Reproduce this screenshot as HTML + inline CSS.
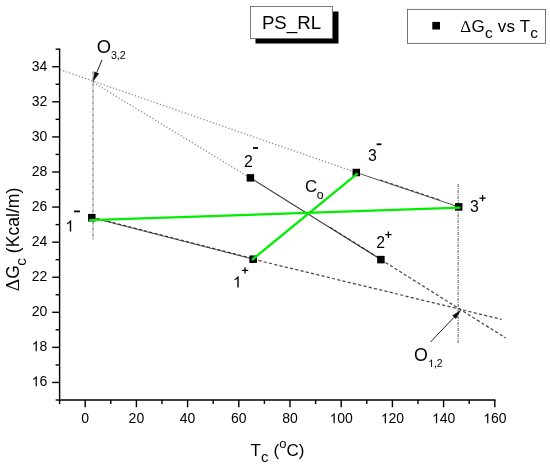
<!DOCTYPE html>
<html><head><meta charset="utf-8"><title>PS_RL</title>
<style>html,body{margin:0;padding:0;background:#fff}body{width:550px;height:467px;position:relative;overflow:hidden;font-family:"Liberation Sans",sans-serif}</style></head>
<body>
<svg width="550" height="467" viewBox="0 0 550 467" style="position:absolute;left:0;top:0;will-change:transform" font-family="Liberation Sans, sans-serif">
<rect width="550" height="467" fill="#fff"/>
<g fill="none" stroke-linecap="butt">
<line x1="93.0" y1="71.5" x2="93.0" y2="240" stroke="#9a9a9a" stroke-width="1.6" stroke-dasharray="3 1 1 1"/>
<line x1="458.2" y1="184" x2="458.2" y2="344" stroke="#9a9a9a" stroke-width="1.6" stroke-dasharray="3 1 1 1"/>
<line x1="60" y1="69.6" x2="356.3" y2="172.5" stroke="#8c8c8c" stroke-width="1.25" stroke-dasharray="1.3 2.0"/>
<line x1="93.1" y1="82.3" x2="250.4" y2="178.0" stroke="#8c8c8c" stroke-width="1.25" stroke-dasharray="1.3 2.0"/>
<line x1="253.2" y1="259.2" x2="501.6" y2="319.3" stroke="#4a4a4a" stroke-width="1.25" stroke-dasharray="3.2 2.2"/>
<line x1="380.9" y1="259.6" x2="505.6" y2="337.9" stroke="#4a4a4a" stroke-width="1.25" stroke-dasharray="3.2 2.2"/>
<line x1="91.8" y1="217.7" x2="253.2" y2="259.2" stroke="#555" stroke-width="1"/>
<line x1="91.8" y1="217.1" x2="253.2" y2="258.6" stroke="#222" stroke-width="1" stroke-dasharray="3.2 2.2"/>
<line x1="250.4" y1="177.85" x2="380.9" y2="259.6" stroke="#333" stroke-width="1.1"/>
<line x1="356.3" y1="172.5" x2="458.7" y2="206.9" stroke="#555" stroke-width="1"/>
<line x1="380" y1="179.9" x2="440" y2="200.0" stroke="#333" stroke-width="1" stroke-dasharray="3.2 2.2"/>
<line x1="330" y1="227.2" x2="380.9" y2="259.1" stroke="#222" stroke-width="1" stroke-dasharray="3.2 2.2"/>
</g>
<rect x="88.05" y="213.95" width="7.5" height="7.5" fill="#000"/>
<rect x="249.45" y="255.45" width="7.5" height="7.5" fill="#000"/>
<rect x="246.65" y="174.10" width="7.5" height="7.5" fill="#000"/>
<rect x="377.15" y="255.85" width="7.5" height="7.5" fill="#000"/>
<rect x="352.55" y="168.75" width="7.5" height="7.5" fill="#000"/>
<rect x="454.95" y="203.15" width="7.5" height="7.5" fill="#000"/>
<line x1="89.2" y1="220.2" x2="460.5" y2="207.7" stroke="#00ee00" stroke-width="2.3"/>
<line x1="251.8" y1="260.0" x2="357.6" y2="173.4" stroke="#00ee00" stroke-width="2.3"/>
<g stroke="#000" stroke-width="1.4" fill="none">
<line x1="59.6" y1="48.5" x2="59.6" y2="400.7"/>
<line x1="58.9" y1="400.0" x2="495.5" y2="400.0"/>
<line x1="55.6" y1="400.00" x2="59.6" y2="400.00"/>
<line x1="52.2" y1="382.46" x2="59.6" y2="382.46"/>
<line x1="55.6" y1="364.92" x2="59.6" y2="364.92"/>
<line x1="52.2" y1="347.38" x2="59.6" y2="347.38"/>
<line x1="55.6" y1="329.84" x2="59.6" y2="329.84"/>
<line x1="52.2" y1="312.30" x2="59.6" y2="312.30"/>
<line x1="55.6" y1="294.76" x2="59.6" y2="294.76"/>
<line x1="52.2" y1="277.22" x2="59.6" y2="277.22"/>
<line x1="55.6" y1="259.68" x2="59.6" y2="259.68"/>
<line x1="52.2" y1="242.14" x2="59.6" y2="242.14"/>
<line x1="55.6" y1="224.60" x2="59.6" y2="224.60"/>
<line x1="52.2" y1="207.06" x2="59.6" y2="207.06"/>
<line x1="55.6" y1="189.52" x2="59.6" y2="189.52"/>
<line x1="52.2" y1="171.98" x2="59.6" y2="171.98"/>
<line x1="55.6" y1="154.44" x2="59.6" y2="154.44"/>
<line x1="52.2" y1="136.90" x2="59.6" y2="136.90"/>
<line x1="55.6" y1="119.36" x2="59.6" y2="119.36"/>
<line x1="52.2" y1="101.82" x2="59.6" y2="101.82"/>
<line x1="55.6" y1="84.28" x2="59.6" y2="84.28"/>
<line x1="52.2" y1="66.74" x2="59.6" y2="66.74"/>
<line x1="55.6" y1="49.20" x2="59.6" y2="49.20"/>
<line x1="59.60" y1="400.0" x2="59.60" y2="404"/>
<line x1="85.20" y1="400.0" x2="85.20" y2="407.3"/>
<line x1="110.80" y1="400.0" x2="110.80" y2="404"/>
<line x1="136.40" y1="400.0" x2="136.40" y2="407.3"/>
<line x1="162.00" y1="400.0" x2="162.00" y2="404"/>
<line x1="187.60" y1="400.0" x2="187.60" y2="407.3"/>
<line x1="213.20" y1="400.0" x2="213.20" y2="404"/>
<line x1="238.80" y1="400.0" x2="238.80" y2="407.3"/>
<line x1="264.40" y1="400.0" x2="264.40" y2="404"/>
<line x1="290.00" y1="400.0" x2="290.00" y2="407.3"/>
<line x1="315.60" y1="400.0" x2="315.60" y2="404"/>
<line x1="341.20" y1="400.0" x2="341.20" y2="407.3"/>
<line x1="366.80" y1="400.0" x2="366.80" y2="404"/>
<line x1="392.40" y1="400.0" x2="392.40" y2="407.3"/>
<line x1="418.00" y1="400.0" x2="418.00" y2="404"/>
<line x1="443.60" y1="400.0" x2="443.60" y2="407.3"/>
<line x1="469.20" y1="400.0" x2="469.20" y2="404"/>
<line x1="494.80" y1="400.0" x2="494.80" y2="407.3"/>
</g>
<g font-size="14.0" fill="#000">
<path d="M763 0H583V1147Q518 1085 412.5 1023Q307 961 223 930V1104Q374 1175 487 1276Q600 1377 647 1472H763Z" transform="translate(31.63,386.26) scale(0.00684,-0.00684)" fill="#000"/>
<text x="39.42" y="386.26">6</text>
<path d="M763 0H583V1147Q518 1085 412.5 1023Q307 961 223 930V1104Q374 1175 487 1276Q600 1377 647 1472H763Z" transform="translate(31.63,351.18) scale(0.00684,-0.00684)" fill="#000"/>
<text x="39.42" y="351.18">8</text>
<text x="31.63" y="316.10">20</text>
<text x="31.63" y="281.02">22</text>
<text x="31.63" y="245.94">24</text>
<text x="31.63" y="210.86">26</text>
<text x="31.63" y="175.78">28</text>
<text x="31.63" y="140.70">30</text>
<text x="31.63" y="105.62">32</text>
<text x="31.63" y="70.54">34</text>
<text x="81.31" y="423.20">0</text>
<text x="128.62" y="423.20">20</text>
<text x="179.82" y="423.20">40</text>
<text x="231.02" y="423.20">60</text>
<text x="282.22" y="423.20">80</text>
<path d="M763 0H583V1147Q518 1085 412.5 1023Q307 961 223 930V1104Q374 1175 487 1276Q600 1377 647 1472H763Z" transform="translate(329.52,423.20) scale(0.00684,-0.00684)" fill="#000"/>
<text x="337.31" y="423.20">00</text>
<path d="M763 0H583V1147Q518 1085 412.5 1023Q307 961 223 930V1104Q374 1175 487 1276Q600 1377 647 1472H763Z" transform="translate(380.72,423.20) scale(0.00684,-0.00684)" fill="#000"/>
<text x="388.51" y="423.20">20</text>
<path d="M763 0H583V1147Q518 1085 412.5 1023Q307 961 223 930V1104Q374 1175 487 1276Q600 1377 647 1472H763Z" transform="translate(431.92,423.20) scale(0.00684,-0.00684)" fill="#000"/>
<text x="439.71" y="423.20">40</text>
<path d="M763 0H583V1147Q518 1085 412.5 1023Q307 961 223 930V1104Q374 1175 487 1276Q600 1377 647 1472H763Z" transform="translate(483.12,423.20) scale(0.00684,-0.00684)" fill="#000"/>
<text x="490.91" y="423.20">60</text>
</g>
<text x="250.6" y="455.7" font-size="17" fill="#000">T<tspan dy="6.5" font-size="15">c</tspan><tspan dy="-6.5" dx="0.4"> (</tspan><tspan dy="-7.9" font-size="13">o</tspan><tspan dy="7.9">C)</tspan></text>
<text transform="translate(18.9,291.3) rotate(-90)" font-size="17.6" fill="#000"><tspan font-family="Liberation Serif, serif" font-size="19.5">Δ</tspan>G<tspan dy="6.7" dx="-0.7" font-size="15.5">c</tspan><tspan dy="-6.7"> (Kcal/m)</tspan></text>
<rect x="255.5" y="11.5" width="83" height="32" fill="#000"/>
<rect x="250.5" y="6.5" width="82" height="32" fill="#fff" stroke="#707070" stroke-width="0.9"/>
<text x="291.5" y="28.7" font-size="18.7" text-anchor="middle" fill="#000">PS_RL</text>
<rect x="407.5" y="9.4" width="138" height="34" fill="#fff" stroke="#666" stroke-width="0.9"/>
<rect x="432.3" y="21.9" width="7.7" height="7.6" fill="#000"/>
<text x="460.3" y="31.6" font-size="17" letter-spacing="0.2" fill="#000"><tspan font-family="Liberation Serif, serif">Δ</tspan>G<tspan dy="6.4" font-size="15.5">c</tspan><tspan dy="-6.4"> vs T</tspan><tspan dy="6.4" font-size="15.5">c</tspan></text>
<g font-size="15.8" fill="#000">
<path d="M763 0H583V1147Q518 1085 412.5 1023Q307 961 223 930V1104Q374 1175 487 1276Q600 1377 647 1472H763Z" transform="translate(65.30,231.50) scale(0.00771,-0.00771)" fill="#000"/>
<rect x="74.1" y="210.5" width="5.8" height="1.8" fill="#000"/>
<text x="244.1" y="167.2">2</text>
<rect x="253.0" y="147.1" width="5.0" height="1.8" fill="#000"/>
<text x="367.9" y="161.3">3</text>
<rect x="376.6" y="143.4" width="4.8" height="1.8" fill="#000"/>
<text x="470.1" y="211.8">3</text>
<path d="M479.4 198.1h6.4M482.59999999999997 194.9v6.4" stroke="#000" stroke-width="1.3" fill="none"/>
<text x="376.2" y="247.8">2</text>
<path d="M385.2 234.7h6.4M388.4 231.5v6.4" stroke="#000" stroke-width="1.3" fill="none"/>
<path d="M763 0H583V1147Q518 1085 412.5 1023Q307 961 223 930V1104Q374 1175 487 1276Q600 1377 647 1472H763Z" transform="translate(232.80,287.50) scale(0.00771,-0.00771)" fill="#000"/>
<path d="M241.8 270.4h6.4M245.0 267.2v6.4" stroke="#000" stroke-width="1.3" fill="none"/>
</g>
<text x="304.9" y="192.2" font-size="16.8" fill="#000">C<tspan dy="6.4" dx="-0.3" font-size="12.3">o</tspan></text>
<text x="96.7" y="52.6" font-size="18.3" fill="#000">O<tspan dy="6.8" font-size="10.7">3,2</tspan></text>
<text x="413.9" y="361.3" font-size="17.8" fill="#000">O</text>
<path d="M763 0H583V1147Q518 1085 412.5 1023Q307 961 223 930V1104Q374 1175 487 1276Q600 1377 647 1472H763Z" transform="translate(428.15,366.90) scale(0.00508,-0.00508)" fill="#000"/>
<text x="433.93" y="366.9" font-size="10.4" fill="#000">,2</text>
<line x1="102.0" y1="60" x2="96.77" y2="72.50" stroke="#222" stroke-width="1"/>
<polygon points="92.80,82.00 94.47,71.53 99.08,73.46" fill="#111"/>
<line x1="430.5" y1="342" x2="454.09" y2="317.25" stroke="#222" stroke-width="1"/>
<polygon points="461.20,309.80 455.90,318.98 452.28,315.53" fill="#111"/>
</svg>
</body></html>
